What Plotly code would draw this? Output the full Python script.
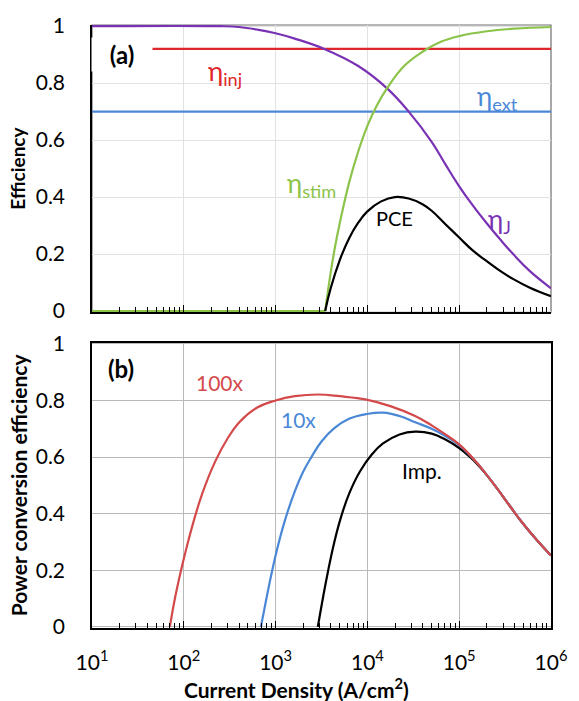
import plotly.graph_objects as go

# ---------------- Panel (a) data ----------------
inj_J = [1e1, 1e6]
inj_eff = [0.92, 0.92]

ext_J = [1e1, 1e6]
ext_eff = [0.70, 0.70]

etaJ_logJ = [1.0, 2.4, 2.6, 2.8, 3.0, 3.2, 3.53, 3.9, 4.22, 4.45, 4.7, 4.85, 5.0, 5.15, 5.3, 5.45, 5.59, 5.77, 6.0]
etaJ_eff = [1.0, 1.0, 0.997, 0.988, 0.975, 0.957, 0.92, 0.86, 0.78, 0.70, 0.594, 0.515, 0.438, 0.37, 0.308, 0.25, 0.199, 0.14, 0.08]

stim_flat_logJ = [1.0, 3.54]
stim_flat_eff = [0.0, 0.0]
stim_logJ = [3.54, 3.6, 3.65, 3.7, 3.8, 3.9, 4.0, 4.1, 4.22, 4.4, 4.6, 4.8, 5.0, 5.3, 5.6, 6.0]
stim_eff = [0.0, 0.135, 0.23, 0.31, 0.45, 0.56, 0.65, 0.72, 0.785, 0.86, 0.91, 0.945, 0.965, 0.982, 0.991, 0.997]

pce_logJ = [3.54, 3.6, 3.7, 3.8, 3.9, 4.0, 4.15, 4.3, 4.45, 4.6, 4.7, 4.85, 5.0, 5.15, 5.3, 5.45, 5.59, 5.77, 6.0]
pce_eff = [0.0, 0.08, 0.18, 0.255, 0.31, 0.35, 0.385, 0.40, 0.395, 0.375, 0.352, 0.305, 0.258, 0.212, 0.175, 0.14, 0.112, 0.082, 0.052]

# ---------------- Panel (b) data ----------------
x100_logJ = [1.848, 1.9, 1.97, 2.05, 2.1, 2.2, 2.34, 2.47, 2.61, 2.8, 3.0, 3.21, 3.46, 3.7, 3.99, 4.25, 4.52, 4.7, 4.85, 5.0, 5.1, 5.2, 5.3, 5.41, 5.55, 5.69, 5.85, 6.0]
x100_pce = [0.0, 0.095, 0.20, 0.305, 0.365, 0.47, 0.583, 0.662, 0.725, 0.775, 0.80, 0.815, 0.821, 0.815, 0.803, 0.78, 0.745, 0.712, 0.68, 0.645, 0.613, 0.577, 0.537, 0.49, 0.428, 0.367, 0.305, 0.252]

x10_logJ = [2.84, 2.9, 2.96, 3.03, 3.11, 3.21, 3.3, 3.39, 3.5, 3.64, 3.8, 3.99, 4.17, 4.35, 4.52, 4.7, 4.85, 5.0, 5.1, 5.2, 5.3, 5.41, 5.55, 5.69, 5.85, 6.0]
x10_pce = [0.0, 0.10, 0.195, 0.292, 0.385, 0.48, 0.548, 0.60, 0.655, 0.702, 0.735, 0.752, 0.757, 0.745, 0.723, 0.70, 0.674, 0.642, 0.612, 0.577, 0.537, 0.49, 0.428, 0.367, 0.305, 0.252]

imp_logJ = [3.46, 3.52, 3.57, 3.64, 3.71, 3.8, 3.92, 4.05, 4.17, 4.35, 4.52, 4.7, 4.85, 5.0, 5.1, 5.2, 5.3, 5.41, 5.55, 5.69, 5.85, 6.0]
imp_pce = [0.0, 0.11, 0.195, 0.30, 0.385, 0.47, 0.55, 0.61, 0.648, 0.68, 0.69, 0.683, 0.662, 0.632, 0.605, 0.574, 0.536, 0.49, 0.428, 0.367, 0.305, 0.252]

# axis ticks
x_tickvals = [1e1, 1e2, 1e3, 1e4, 1e5, 1e6]
x_ticktext = ["10<sup>1</sup>", "10<sup>2</sup>", "10<sup>3</sup>", "10<sup>4</sup>", "10<sup>5</sup>", "10<sup>6</sup>"]
y_tickvals = [0, 0.2, 0.4, 0.6, 0.8, 1.0]
y_ticktext = ["0", "0.2", "0.4", "0.6", "0.8", "1"]

RED = "#e0262a"
RED_B = "#d44a4b"
BLUE = "#4a88d6"
GREEN = "#8cc34a"
PURPLE = "#7a32b4"
BLACK = "#000000"
FONT = "Lato"
LW = 2.2
SM = 1.2


def J(logs):
    return [10 ** v for v in logs]


def curve(xs, ys, color, ax, ay, spline=True):
    line = dict(color=color, width=LW)
    if spline:
        line.update(shape="spline", smoothing=SM)
    return go.Scatter(x=J(xs), y=ys, mode="lines", line=line, xaxis=ax, yaxis=ay, hoverinfo="skip")


fig = go.Figure()
# ---- panel (a)
fig.add_trace(curve(stim_flat_logJ, stim_flat_eff, GREEN, "x", "y", spline=False))
fig.add_trace(go.Scatter(x=inj_J, y=inj_eff, mode="lines", line=dict(color=RED, width=LW), xaxis="x", yaxis="y"))
fig.add_trace(go.Scatter(x=ext_J, y=ext_eff, mode="lines", line=dict(color=BLUE, width=LW), xaxis="x", yaxis="y"))
fig.add_trace(curve(etaJ_logJ, etaJ_eff, PURPLE, "x", "y"))
fig.add_trace(curve(stim_logJ, stim_eff, GREEN, "x", "y"))
fig.add_trace(curve(pce_logJ, pce_eff, BLACK, "x", "y"))
# ---- panel (b)
fig.add_trace(curve(imp_logJ, imp_pce, BLACK, "x2", "y2"))
fig.add_trace(curve(x10_logJ, x10_pce, BLUE, "x2", "y2"))
fig.add_trace(curve(x100_logJ, x100_pce, RED_B, "x2", "y2"))

common_x = dict(type="log", range=[1, 6], tickvals=x_tickvals, ticks="inside", ticklen=7, tickwidth=1,
                tickcolor="black", showline=True, linecolor="black", linewidth=1.5,
                minor=dict(ticks="inside", ticklen=5, tickwidth=1, tickcolor="black", dtick="D1", showgrid=False),
                zeroline=False)
common_y = dict(range=[-0.004, 1.004], tickvals=y_tickvals, ticktext=y_ticktext, ticks="",
                showline=True, linecolor="black", linewidth=1.5, zeroline=False,
                ticklabelstandoff=21, tickfont=dict(family=FONT, size=21, color="black"))

fig.update_layout(
    width=579, height=701,
    margin=dict(l=92, r=17, t=15, b=73),
    paper_bgcolor="white", plot_bgcolor="white",
    showlegend=False,
    font=dict(family=FONT, color="black"),
    xaxis=dict(common_x, domain=[0, 1], anchor="y", showticklabels=False,
               showgrid=True, gridcolor="#e2e2e2", gridwidth=1),
    yaxis=dict(common_y, domain=[0.5237, 1.0], anchor="x", showgrid=True, gridcolor="#e2e2e2", gridwidth=1),
    xaxis2=dict(common_x, domain=[0, 1], anchor="y2", ticktext=x_ticktext, showticklabels=True,
                mirror=True, showgrid=True, gridcolor="#b9b9b9", gridwidth=1,
                ticklabelstandoff=15, tickfont=dict(family=FONT, size=21, color="black")),
    yaxis2=dict(common_y, domain=[0, 0.4731], anchor="x2", mirror=True,
                showgrid=True, gridcolor="#b9b9b9", gridwidth=1),
    shapes=[
        dict(type="rect", xref="x domain", yref="y domain", x0=0, x1=1, y0=0, y1=1,
             line=dict(color="#6f6f6f", width=1.2), layer="below"),
    ],
)

ann = []
# panel labels
ann.append(dict(x=1.33, y=0.902, xref="x", yref="y", text="<b>(a)</b>", showarrow=False,
                font=dict(family=FONT, size=24, color="black"), bgcolor="white", width=56, borderpad=2))
ann.append(dict(x=1.32, y=0.914, xref="x2", yref="y2", text="<b>(b)</b>", showarrow=False,
                font=dict(family=FONT, size=24, color="black")))
# curve labels (a)
ann.append(dict(x=2.45, y=0.839, xref="x", yref="y", text="η<sub>inj</sub>", showarrow=False,
                font=dict(family=FONT, size=26, color=RED)))
ann.append(dict(x=5.415, y=0.75, xref="x", yref="y", text="η<sub>ext</sub>", showarrow=False,
                font=dict(family=FONT, size=26, color=BLUE)))
ann.append(dict(x=3.394, y=0.445, xref="x", yref="y", text="η<sub>stim</sub>", showarrow=False,
                font=dict(family=FONT, size=26, color=GREEN)))
ann.append(dict(x=4.30, y=0.325, xref="x", yref="y", text="PCE", showarrow=False,
                font=dict(family=FONT, size=20, color="black")))
ann.append(dict(x=5.44, y=0.318, xref="x", yref="y", text="η<sub>J</sub>", showarrow=False,
                font=dict(family=FONT, size=26, color=PURPLE)))
# curve labels (b)
ann.append(dict(x=2.394, y=0.862, xref="x2", yref="y2", text="100x", showarrow=False,
                font=dict(family=FONT, size=21, color=RED_B)))
ann.append(dict(x=3.245, y=0.734, xref="x2", yref="y2", text="10x", showarrow=False,
                font=dict(family=FONT, size=21, color=BLUE)))
ann.append(dict(x=4.596, y=0.552, xref="x2", yref="y2", text="Imp.", showarrow=False,
                font=dict(family=FONT, size=21, color="black")))
# axis titles
ann.append(dict(x=0, y=0.7618, xref="paper", yref="paper", xshift=-74, text="Efficiency", textangle=-90,
                showarrow=False, xanchor="center", yanchor="middle",
                font=dict(family=FONT, size=19, color="black", weight="bold")))
ann.append(dict(x=0, y=0.2366, xref="paper", yref="paper", xshift=-74, text="Power conversion efficiency",
                textangle=-90, showarrow=False, xanchor="center", yanchor="middle",
                font=dict(family=FONT, size=21, color="black", weight="bold")))
ann.append(dict(x=0.445, y=0, xref="paper", yref="paper", yshift=-60, text="Current Density (A/cm<sup>2</sup>)",
                showarrow=False, xanchor="center", yanchor="middle",
                font=dict(family=FONT, size=21, color="black", weight="bold")))
fig.update_layout(annotations=ann)

fig.write_html("out.html")
